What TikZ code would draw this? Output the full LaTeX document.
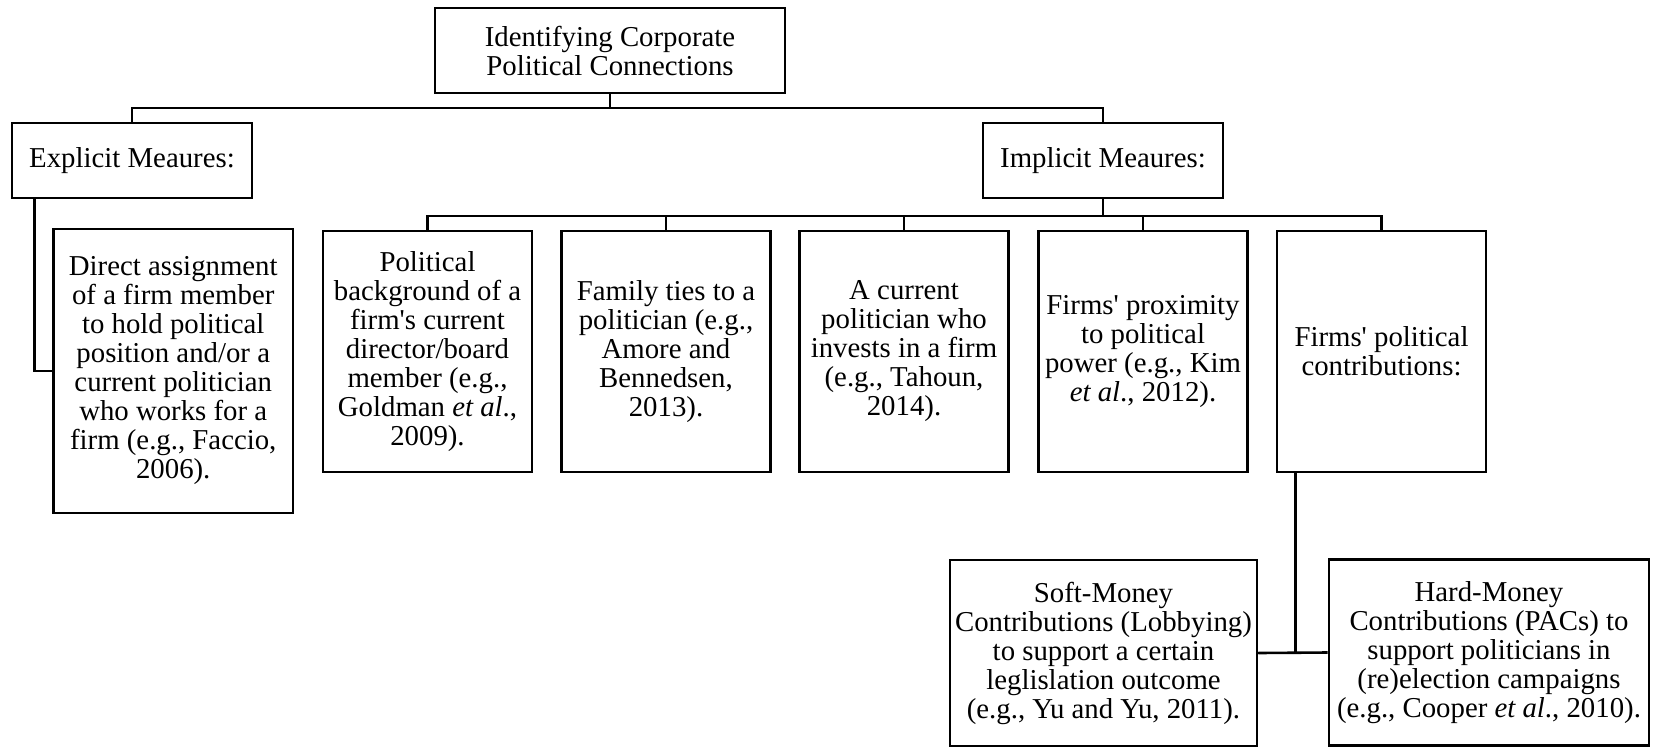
\documentclass[tikz,border=0pt]{standalone}
\usepackage{fontspec}
\setmainfont{Liberation Serif}
\usetikzlibrary{positioning,calc}
\tikzstyle{tree boxes}=[
    x=0.5pt, y=-0.5pt, line width=1.3pt,
    every node/.style={
        draw, rectangle, align=center, inner sep=0pt,
        font=\fontsize{14.4}{14.5}\selectfont,
}]
\tikzstyle{measure box}=[minimum width=120pt, minimum height=37.5pt]
\tikzstyle{source box}=[minimum width=104.5pt, minimum height=120.5pt]
\tikzstyle{money box}=[minimum height=93pt]
\newcommand{\etal}{\textit{et al}.}
\newcommand{\apos}{\textquotesingle}

\begin{document}
\begin{tikzpicture}[tree boxes]
        \useasboundingbox (0,0) rectangle (1660,750);

        \node[minimum width=175pt, minimum height=42.5pt] (root) at (610,50.5) {Identifying Corporate\\Political Connections};
        \node[measure box] (explicit) at (132,160.5) {Explicit Meaures:};
        \node[measure box] (implicit) at (1103,160.5) {Implicit Meaures:};

        \node[minimum width=119.75pt, minimum height=142pt] (direct) at (173.25,371) {Direct assignment\\of a firm member\\to hold political\\position and/or a\\current politician\\who works for a\\firm (e.g., Faccio,\\2006).};

        \node[source box] (background) at (427.5,351.5) {Political\\background of a\\firm\apos s current\\director/board\\member (e.g.,\\Goldman \etal,\\2009).};
        \node[source box] (family) at (666,351.5) {Family ties to a\\politician (e.g.,\\Amore and\\Bennedsen,\\2013).};
        \node[source box] (investor) at (904,351.5) {A current\\politician who\\invests in a firm\\(e.g., Tahoun,\\2014).};
        \node[source box] (proximity) at (1143,351.5) {Firms\apos\ proximity\\to political\\power (e.g., Kim\\\etal, 2012).};
        \node[source box] (contrib) at (1381.5,351.5) {Firms\apos\ political\\contributions:};

        \node[money box, minimum width=153.5pt] (soft) at (1103.5,653) {Soft-Money\\Contributions (Lobbying)\\to support a certain\\leglislation outcome\\(e.g., Yu and Yu, 2011).};
        \node[money box, minimum width=160pt] (hard) at (1489,652.5) {Hard-Money\\Contributions (PACs) to\\support politicians in\\(re)election campaigns\\(e.g., Cooper \etal, 2010).};

        \coordinate (rootbar) at (610,108);
        \coordinate (implbar) at (1103,216);

        \draw (root.south) -- (rootbar);
        \draw (explicit.north) -- (explicit.north |- rootbar) -- (implicit.north |- rootbar) -- (implicit.north);
        \draw ([xshift=12pt]explicit.south west) |- (direct.west);

        \draw (implicit.south) -- (implbar);
        \draw (background.north) -- (background.north |- implbar) -- (contrib.north |- implbar) -- (contrib.north);
        \foreach \n in {family,investor,proximity}
            \draw (\n.north) -- (\n.north |- implbar);

        \draw ([xshift=10pt]contrib.south west) |- (soft.east);
        \draw (soft.east) -- (hard.west);
    \end{tikzpicture}
\end{document}
